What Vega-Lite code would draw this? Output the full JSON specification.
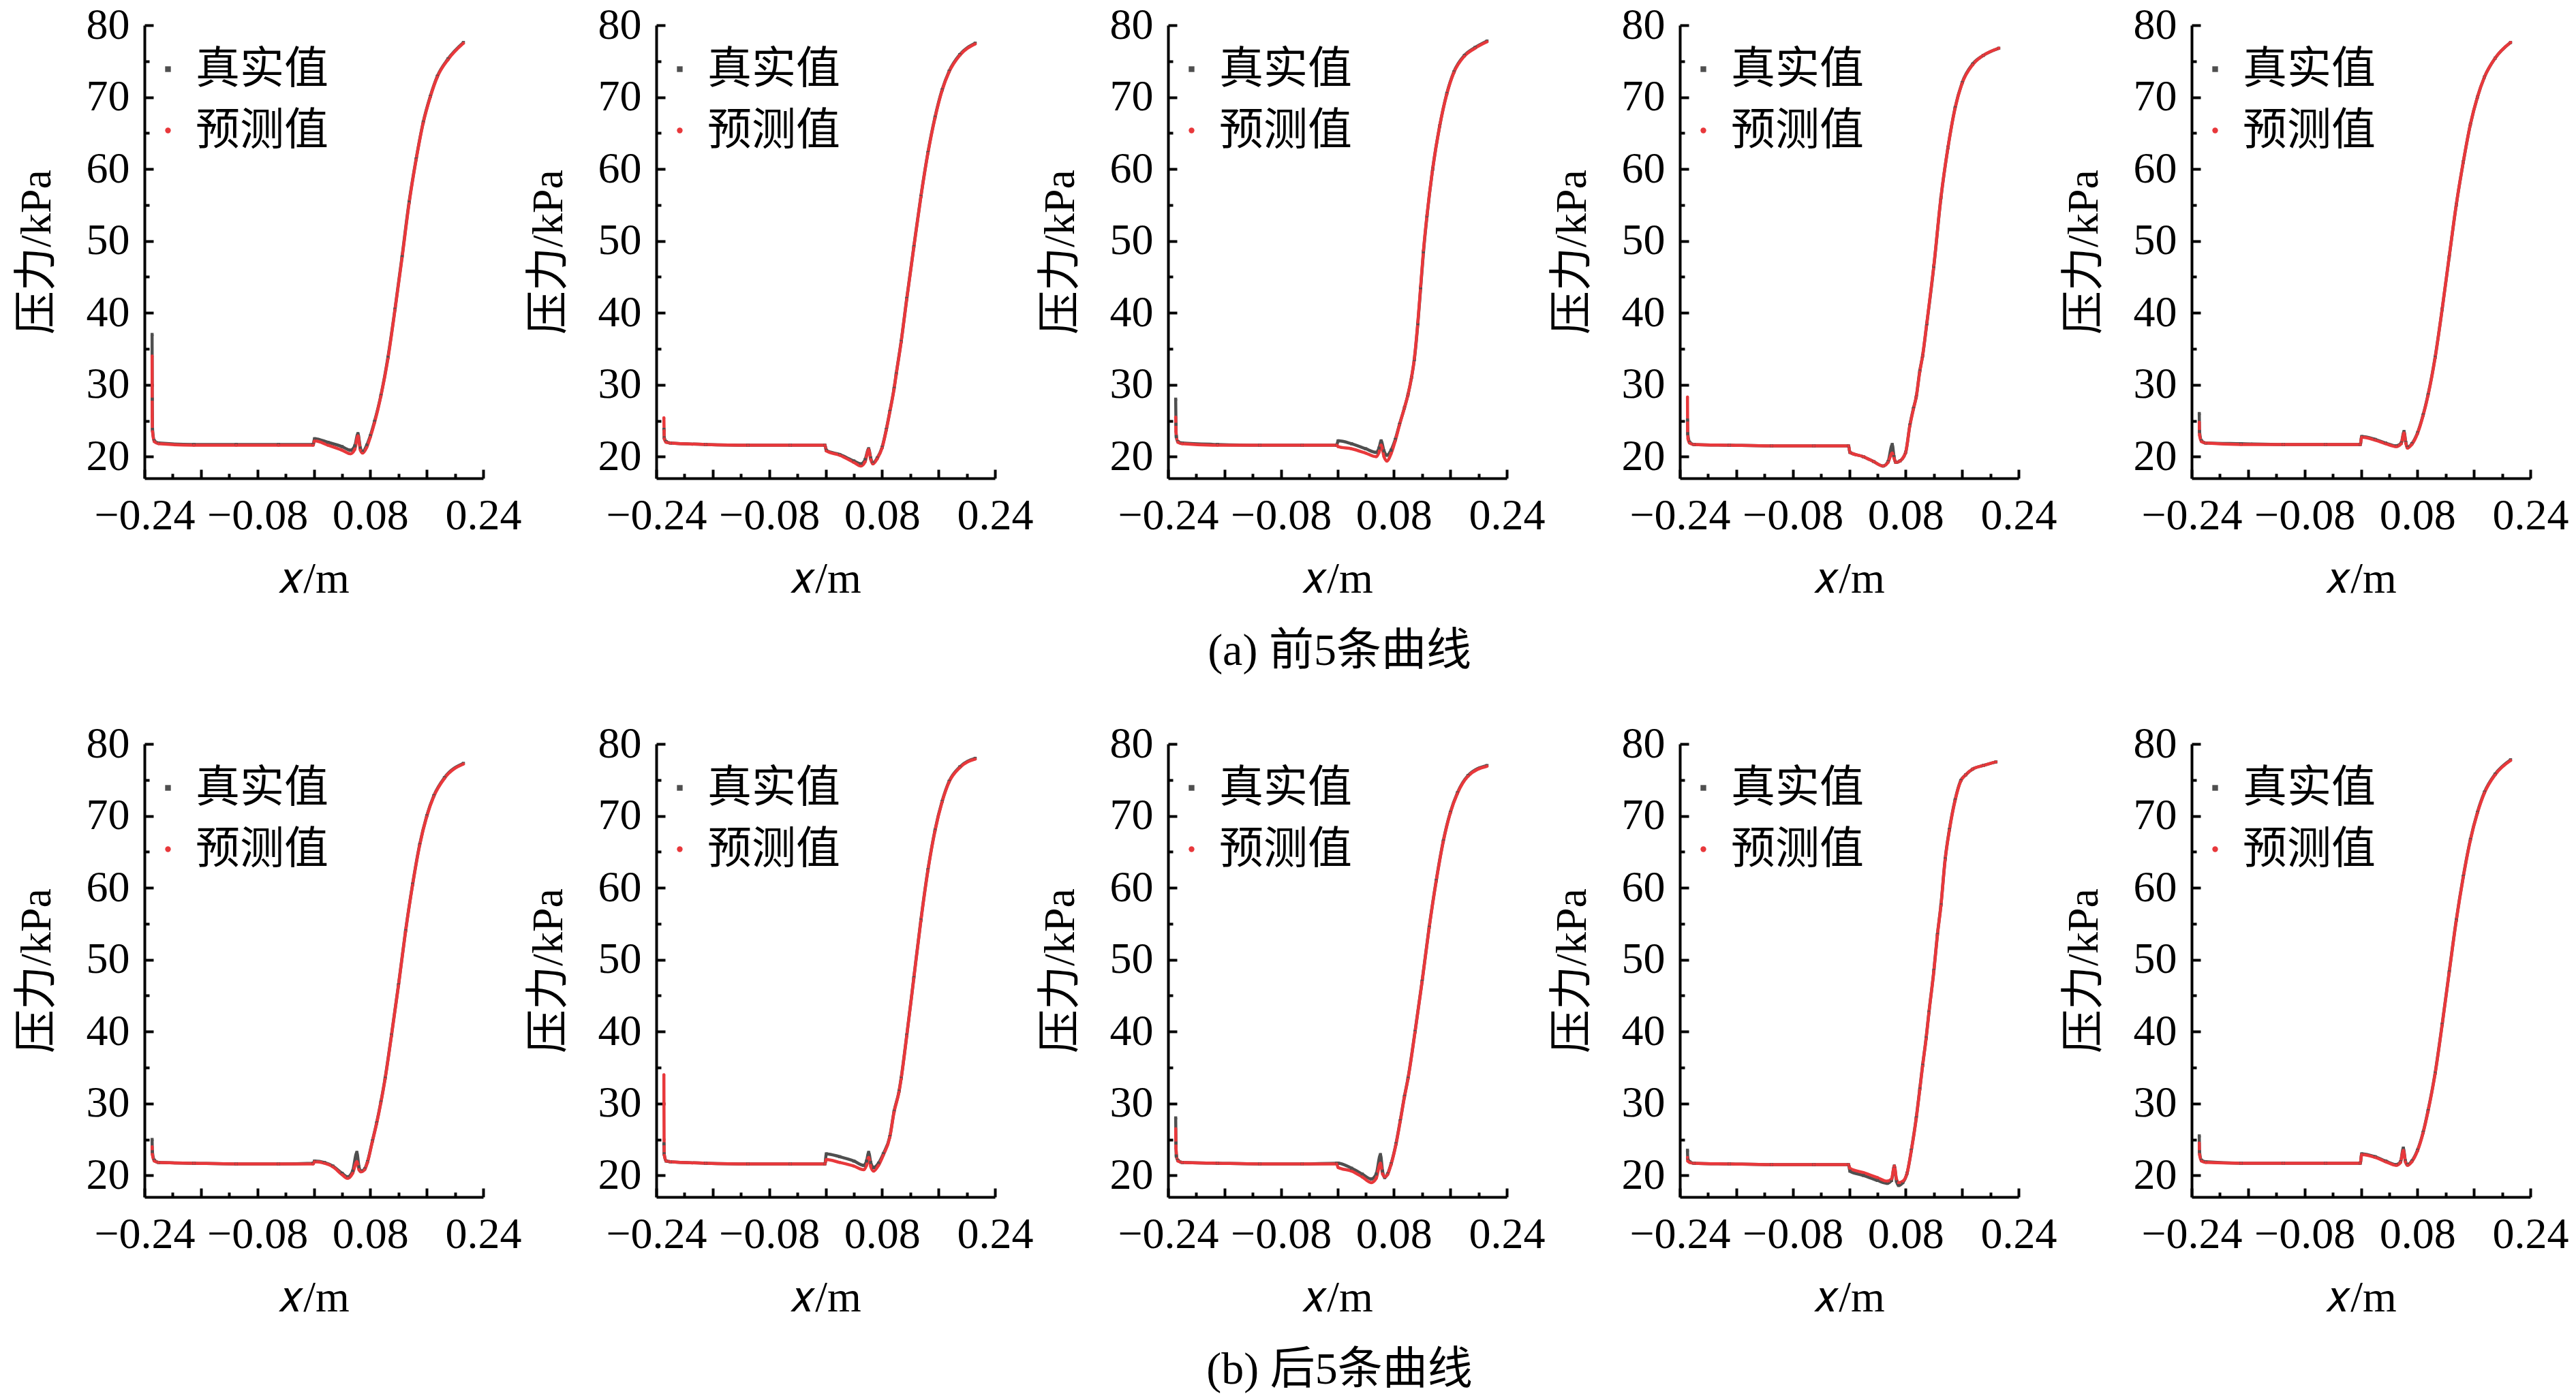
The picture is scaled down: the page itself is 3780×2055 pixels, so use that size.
{"$schema":"https://vega.github.io/schema/vega-lite/v6.json","padding":{"left":22,"top":5,"right":5,"bottom":5},"background":"white",
"data":{"values":[
{"s":"真实值","x":-0.2292,"y1":37},{"s":"真实值","x":-0.229,"y1":28},{"s":"真实值","x":-0.2286,"y1":23.8},{"s":"真实值","x":-0.226,"y1":22.2},{"s":"真实值","x":-0.22,"y1":21.9},{"s":"真实值","x":-0.17,"y1":21.7},{"s":"真实值","x":-0.11,"y1":21.7},{"s":"真实值","x":-0.05,"y1":21.7},{"s":"真实值","x":-0.001,"y1":21.7},{"s":"真实值","x":0.001,"y1":22.5},{"s":"真实值","x":0.02,"y1":22},{"s":"真实值","x":0.04,"y1":21.4},{"s":"真实值","x":0.052,"y1":20.9},{"s":"真实值","x":0.058,"y1":21.5},{"s":"真实值","x":0.0625,"y1":23.2},{"s":"真实值","x":0.066,"y1":21.2},{"s":"真实值","x":0.069,"y1":20.7},{"s":"真实值","x":0.075,"y1":21.6},{"s":"真实值","x":0.08,"y1":22.9},{"s":"真实值","x":0.086,"y1":24.9},{"s":"真实值","x":0.095,"y1":28.5},{"s":"真实值","x":0.105,"y1":33.8},{"s":"真实值","x":0.115,"y1":40.5},{"s":"真实值","x":0.125,"y1":47.8},{"s":"真实值","x":0.135,"y1":55.4},{"s":"真实值","x":0.145,"y1":61.4},{"s":"真实值","x":0.155,"y1":66.5},{"s":"真实值","x":0.165,"y1":70.1},{"s":"真实值","x":0.175,"y1":72.9},{"s":"真实值","x":0.19,"y1":75.3},{"s":"真实值","x":0.212,"y1":77.6},
{"s":"预测值","x":-0.2292,"y1":34},{"s":"预测值","x":-0.229,"y1":25.6},{"s":"预测值","x":-0.2286,"y1":23.5},{"s":"预测值","x":-0.226,"y1":22.1},{"s":"预测值","x":-0.22,"y1":21.8},{"s":"预测值","x":-0.17,"y1":21.6},{"s":"预测值","x":-0.11,"y1":21.6},{"s":"预测值","x":-0.05,"y1":21.6},{"s":"预测值","x":-0.001,"y1":21.6},{"s":"预测值","x":0.001,"y1":22.2},{"s":"预测值","x":0.02,"y1":21.6},{"s":"预测值","x":0.04,"y1":20.9},{"s":"预测值","x":0.052,"y1":20.4},{"s":"预测值","x":0.058,"y1":21},{"s":"预测值","x":0.0625,"y1":22.9},{"s":"预测值","x":0.066,"y1":20.9},{"s":"预测值","x":0.069,"y1":20.5},{"s":"预测值","x":0.075,"y1":21.3},{"s":"预测值","x":0.08,"y1":22.7},{"s":"预测值","x":0.086,"y1":24.7},{"s":"预测值","x":0.095,"y1":28.4},{"s":"预测值","x":0.105,"y1":33.6},{"s":"预测值","x":0.115,"y1":40.4},{"s":"预测值","x":0.125,"y1":47.6},{"s":"预测值","x":0.135,"y1":55.2},{"s":"预测值","x":0.145,"y1":61.3},{"s":"预测值","x":0.155,"y1":66.4},{"s":"预测值","x":0.165,"y1":70},{"s":"预测值","x":0.175,"y1":72.8},{"s":"预测值","x":0.19,"y1":75.2},{"s":"预测值","x":0.212,"y1":77.5},
{"s":"真实值","x":-0.2292,"y2":23.8},{"s":"真实值","x":-0.2286,"y2":22.6},{"s":"真实值","x":-0.226,"y2":22.1},{"s":"真实值","x":-0.22,"y2":21.9},{"s":"真实值","x":-0.17,"y2":21.7},{"s":"真实值","x":-0.11,"y2":21.6},{"s":"真实值","x":-0.05,"y2":21.6},{"s":"真实值","x":-0.001,"y2":21.6},{"s":"真实值","x":0.001,"y2":20.9},{"s":"真实值","x":0.02,"y2":20.3},{"s":"真实值","x":0.04,"y2":19.4},{"s":"真实值","x":0.05,"y2":19},{"s":"真实值","x":0.056,"y2":19.6},{"s":"真实值","x":0.061,"y2":21.1},{"s":"真实值","x":0.064,"y2":19.8},{"s":"真实值","x":0.067,"y2":19.1},{"s":"真实值","x":0.073,"y2":19.8},{"s":"真实值","x":0.08,"y2":21.3},{"s":"真实值","x":0.086,"y2":23.8},{"s":"真实值","x":0.091,"y2":26.3},{"s":"真实值","x":0.097,"y2":29.5},{"s":"真实值","x":0.1,"y2":31.5},{"s":"真实值","x":0.107,"y2":36},{"s":"真实值","x":0.115,"y2":42},{"s":"真实值","x":0.125,"y2":49.2},{"s":"真实值","x":0.135,"y2":56.2},{"s":"真实值","x":0.145,"y2":62.3},{"s":"真实值","x":0.155,"y2":67.2},{"s":"真实值","x":0.165,"y2":71},{"s":"真实值","x":0.175,"y2":73.6},{"s":"真实值","x":0.19,"y2":75.9},{"s":"真实值","x":0.212,"y2":77.5},
{"s":"预测值","x":-0.2292,"y2":25.4},{"s":"预测值","x":-0.2289,"y2":23.6},{"s":"预测值","x":-0.2286,"y2":22.5},{"s":"预测值","x":-0.226,"y2":22},{"s":"预测值","x":-0.22,"y2":21.9},{"s":"预测值","x":-0.17,"y2":21.7},{"s":"预测值","x":-0.11,"y2":21.6},{"s":"预测值","x":-0.05,"y2":21.6},{"s":"预测值","x":-0.001,"y2":21.6},{"s":"预测值","x":0.001,"y2":20.8},{"s":"预测值","x":0.02,"y2":20.2},{"s":"预测值","x":0.04,"y2":19.2},{"s":"预测值","x":0.05,"y2":18.7},{"s":"预测值","x":0.056,"y2":19.3},{"s":"预测值","x":0.061,"y2":21},{"s":"预测值","x":0.064,"y2":19.6},{"s":"预测值","x":0.067,"y2":19},{"s":"预测值","x":0.073,"y2":19.7},{"s":"预测值","x":0.08,"y2":21.2},{"s":"预测值","x":0.086,"y2":23.7},{"s":"预测值","x":0.091,"y2":26.2},{"s":"预测值","x":0.097,"y2":29.4},{"s":"预测值","x":0.1,"y2":31.4},{"s":"预测值","x":0.107,"y2":35.9},{"s":"预测值","x":0.115,"y2":41.9},{"s":"预测值","x":0.125,"y2":49.1},{"s":"预测值","x":0.135,"y2":56.1},{"s":"预测值","x":0.145,"y2":62.2},{"s":"预测值","x":0.155,"y2":67.1},{"s":"预测值","x":0.165,"y2":70.9},{"s":"预测值","x":0.175,"y2":73.5},{"s":"预测值","x":0.19,"y2":75.8},{"s":"预测值","x":0.212,"y2":77.4},
{"s":"真实值","x":-0.2292,"y3":28},{"s":"真实值","x":-0.2288,"y3":24.5},{"s":"真实值","x":-0.2284,"y3":22.8},{"s":"真实值","x":-0.226,"y3":22.1},{"s":"真实值","x":-0.22,"y3":21.9},{"s":"真实值","x":-0.17,"y3":21.7},{"s":"真实值","x":-0.11,"y3":21.6},{"s":"真实值","x":-0.05,"y3":21.6},{"s":"真实值","x":-0.001,"y3":21.6},{"s":"真实值","x":0.001,"y3":22.2},{"s":"真实值","x":0.02,"y3":21.8},{"s":"真实值","x":0.04,"y3":21.1},{"s":"真实值","x":0.055,"y3":20.6},{"s":"真实值","x":0.059,"y3":21.2},{"s":"真实值","x":0.062,"y3":22.2},{"s":"真实值","x":0.066,"y3":20.8},{"s":"真实值","x":0.07,"y3":20.2},{"s":"真实值","x":0.076,"y3":20.9},{"s":"真实值","x":0.082,"y3":22.4},{"s":"真实值","x":0.088,"y3":24.5},{"s":"真实值","x":0.095,"y3":26.8},{"s":"真实值","x":0.1,"y3":28.6},{"s":"真实值","x":0.105,"y3":31},{"s":"真实值","x":0.109,"y3":33.5},{"s":"真实值","x":0.114,"y3":38.5},{"s":"真实值","x":0.118,"y3":43.5},{"s":"真实值","x":0.122,"y3":48.5},{"s":"真实值","x":0.127,"y3":53.5},{"s":"真实值","x":0.135,"y3":60},{"s":"真实值","x":0.145,"y3":66},{"s":"真实值","x":0.155,"y3":70.5},{"s":"真实值","x":0.165,"y3":73.5},{"s":"真实值","x":0.18,"y3":75.8},{"s":"真实值","x":0.195,"y3":76.9},{"s":"真实值","x":0.212,"y3":77.8},
{"s":"预测值","x":-0.2292,"y3":25.5},{"s":"预测值","x":-0.2288,"y3":23.5},{"s":"预测值","x":-0.226,"y3":22},{"s":"预测值","x":-0.22,"y3":21.8},{"s":"预测值","x":-0.17,"y3":21.6},{"s":"预测值","x":-0.11,"y3":21.6},{"s":"预测值","x":-0.05,"y3":21.6},{"s":"预测值","x":-0.001,"y3":21.6},{"s":"预测值","x":0.001,"y3":21.4},{"s":"预测值","x":0.02,"y3":21.1},{"s":"预测值","x":0.04,"y3":20.5},{"s":"预测值","x":0.055,"y3":20},{"s":"预测值","x":0.059,"y3":20.6},{"s":"预测值","x":0.062,"y3":21.6},{"s":"预测值","x":0.066,"y3":20},{"s":"预测值","x":0.07,"y3":19.4},{"s":"预测值","x":0.076,"y3":20.4},{"s":"预测值","x":0.082,"y3":22.2},{"s":"预测值","x":0.088,"y3":24.4},{"s":"预测值","x":0.095,"y3":26.8},{"s":"预测值","x":0.1,"y3":28.6},{"s":"预测值","x":0.105,"y3":31},{"s":"预测值","x":0.109,"y3":33.6},{"s":"预测值","x":0.114,"y3":38.7},{"s":"预测值","x":0.118,"y3":43.7},{"s":"预测值","x":0.122,"y3":48.7},{"s":"预测值","x":0.127,"y3":53.6},{"s":"预测值","x":0.135,"y3":60},{"s":"预测值","x":0.145,"y3":66},{"s":"预测值","x":0.155,"y3":70.4},{"s":"预测值","x":0.165,"y3":73.4},{"s":"预测值","x":0.18,"y3":75.7},{"s":"预测值","x":0.195,"y3":76.8},{"s":"预测值","x":0.212,"y3":77.7},
{"s":"真实值","x":-0.2292,"y4":25.1},{"s":"真实值","x":-0.2288,"y4":23.2},{"s":"真实值","x":-0.226,"y4":22},{"s":"真实值","x":-0.22,"y4":21.7},{"s":"真实值","x":-0.17,"y4":21.6},{"s":"真实值","x":-0.11,"y4":21.5},{"s":"真实值","x":-0.05,"y4":21.5},{"s":"真实值","x":-0.001,"y4":21.5},{"s":"真实值","x":0.001,"y4":20.6},{"s":"真实值","x":0.02,"y4":20},{"s":"真实值","x":0.035,"y4":19.3},{"s":"真实值","x":0.048,"y4":18.7},{"s":"真实值","x":0.055,"y4":19.3},{"s":"真实值","x":0.061,"y4":21.7},{"s":"真实值","x":0.0635,"y4":20},{"s":"真实值","x":0.066,"y4":19.2},{"s":"真实值","x":0.072,"y4":19.4},{"s":"真实值","x":0.08,"y4":20.6},{"s":"真实值","x":0.086,"y4":24.4},{"s":"真实值","x":0.091,"y4":26.7},{"s":"真实值","x":0.095,"y4":28.3},{"s":"真实值","x":0.1,"y4":31.9},{"s":"真实值","x":0.104,"y4":34},{"s":"真实值","x":0.11,"y4":38.5},{"s":"真实值","x":0.12,"y4":46.5},{"s":"真实值","x":0.13,"y4":56},{"s":"真实值","x":0.14,"y4":63},{"s":"真实值","x":0.15,"y4":68.5},{"s":"真实值","x":0.16,"y4":72},{"s":"真实值","x":0.175,"y4":74.6},{"s":"真实值","x":0.19,"y4":75.8},{"s":"真实值","x":0.212,"y4":76.8},
{"s":"预测值","x":-0.2292,"y4":28.3},{"s":"预测值","x":-0.229,"y4":24},{"s":"预测值","x":-0.2285,"y4":22.5},{"s":"预测值","x":-0.226,"y4":21.9},{"s":"预测值","x":-0.22,"y4":21.7},{"s":"预测值","x":-0.17,"y4":21.6},{"s":"预测值","x":-0.11,"y4":21.5},{"s":"预测值","x":-0.05,"y4":21.5},{"s":"预测值","x":-0.001,"y4":21.5},{"s":"预测值","x":0.001,"y4":20.6},{"s":"预测值","x":0.02,"y4":20},{"s":"预测值","x":0.035,"y4":19.3},{"s":"预测值","x":0.048,"y4":18.7},{"s":"预测值","x":0.055,"y4":19.2},{"s":"预测值","x":0.061,"y4":20.5},{"s":"预测值","x":0.0635,"y4":19.8},{"s":"预测值","x":0.066,"y4":19.2},{"s":"预测值","x":0.072,"y4":19.4},{"s":"预测值","x":0.08,"y4":20.6},{"s":"预测值","x":0.086,"y4":24.3},{"s":"预测值","x":0.091,"y4":26.6},{"s":"预测值","x":0.095,"y4":28.3},{"s":"预测值","x":0.1,"y4":31.8},{"s":"预测值","x":0.104,"y4":34},{"s":"预测值","x":0.11,"y4":38.6},{"s":"预测值","x":0.12,"y4":46.6},{"s":"预测值","x":0.13,"y4":56},{"s":"预测值","x":0.14,"y4":63},{"s":"预测值","x":0.15,"y4":68.4},{"s":"预测值","x":0.16,"y4":71.9},{"s":"预测值","x":0.175,"y4":74.5},{"s":"预测值","x":0.19,"y4":75.8},{"s":"预测值","x":0.212,"y4":76.8},
{"s":"真实值","x":-0.2292,"y5":26},{"s":"真实值","x":-0.2288,"y5":23.5},{"s":"真实值","x":-0.226,"y5":22.2},{"s":"真实值","x":-0.22,"y5":21.9},{"s":"真实值","x":-0.17,"y5":21.8},{"s":"真实值","x":-0.11,"y5":21.7},{"s":"真实值","x":-0.05,"y5":21.7},{"s":"真实值","x":-0.001,"y5":21.7},{"s":"真实值","x":0.001,"y5":22.8},{"s":"真实值","x":0.02,"y5":22.4},{"s":"真实值","x":0.035,"y5":21.9},{"s":"真实值","x":0.05,"y5":21.5},{"s":"真实值","x":0.057,"y5":21.9},{"s":"真实值","x":0.061,"y5":23.5},{"s":"真实值","x":0.0635,"y5":22},{"s":"真实值","x":0.066,"y5":21.3},{"s":"真实值","x":0.072,"y5":21.8},{"s":"真实值","x":0.08,"y5":23.3},{"s":"真实值","x":0.088,"y5":25.8},{"s":"真实值","x":0.095,"y5":28.6},{"s":"真实值","x":0.105,"y5":33.8},{"s":"真实值","x":0.115,"y5":40.5},{"s":"真实值","x":0.125,"y5":47.8},{"s":"真实值","x":0.135,"y5":55},{"s":"真实值","x":0.145,"y5":61},{"s":"真实值","x":0.155,"y5":66.2},{"s":"真实值","x":0.165,"y5":70},{"s":"真实值","x":0.175,"y5":72.8},{"s":"真实值","x":0.19,"y5":75.4},{"s":"真实值","x":0.212,"y5":77.6},
{"s":"预测值","x":-0.2292,"y5":24.8},{"s":"预测值","x":-0.2288,"y5":23},{"s":"预测值","x":-0.226,"y5":22.1},{"s":"预测值","x":-0.22,"y5":21.9},{"s":"预测值","x":-0.17,"y5":21.7},{"s":"预测值","x":-0.11,"y5":21.7},{"s":"预测值","x":-0.05,"y5":21.7},{"s":"预测值","x":-0.001,"y5":21.7},{"s":"预测值","x":0.001,"y5":22.7},{"s":"预测值","x":0.02,"y5":22.3},{"s":"预测值","x":0.035,"y5":21.8},{"s":"预测值","x":0.05,"y5":21.4},{"s":"预测值","x":0.057,"y5":21.8},{"s":"预测值","x":0.061,"y5":23.3},{"s":"预测值","x":0.0635,"y5":21.9},{"s":"预测值","x":0.066,"y5":21.2},{"s":"预测值","x":0.072,"y5":21.7},{"s":"预测值","x":0.08,"y5":23.2},{"s":"预测值","x":0.088,"y5":25.7},{"s":"预测值","x":0.095,"y5":28.5},{"s":"预测值","x":0.105,"y5":33.7},{"s":"预测值","x":0.115,"y5":40.5},{"s":"预测值","x":0.125,"y5":47.8},{"s":"预测值","x":0.135,"y5":55},{"s":"预测值","x":0.145,"y5":61},{"s":"预测值","x":0.155,"y5":66.2},{"s":"预测值","x":0.165,"y5":70},{"s":"预测值","x":0.175,"y5":72.8},{"s":"预测值","x":0.19,"y5":75.4},{"s":"预测值","x":0.212,"y5":77.6},
{"s":"真实值","x":-0.2292,"y6":25},{"s":"真实值","x":-0.2288,"y6":23.3},{"s":"真实值","x":-0.226,"y6":22.1},{"s":"真实值","x":-0.22,"y6":21.8},{"s":"真实值","x":-0.17,"y6":21.7},{"s":"真实值","x":-0.11,"y6":21.6},{"s":"真实值","x":-0.05,"y6":21.6},{"s":"真实值","x":-0.001,"y6":21.7},{"s":"真实值","x":0.001,"y6":22},{"s":"真实值","x":0.015,"y6":21.8},{"s":"真实值","x":0.027,"y6":21.3},{"s":"真实值","x":0.04,"y6":20.3},{"s":"真实值","x":0.048,"y6":19.8},{"s":"真实值","x":0.055,"y6":20.6},{"s":"真实值","x":0.061,"y6":23.2},{"s":"真实值","x":0.064,"y6":21.2},{"s":"真实值","x":0.067,"y6":20.6},{"s":"真实值","x":0.072,"y6":20.9},{"s":"真实值","x":0.076,"y6":21.9},{"s":"真实值","x":0.083,"y6":24.8},{"s":"真实值","x":0.089,"y6":27.3},{"s":"真实值","x":0.095,"y6":30.2},{"s":"真实值","x":0.101,"y6":33.5},{"s":"真实值","x":0.11,"y6":39.5},{"s":"真实值","x":0.12,"y6":46.5},{"s":"真实值","x":0.13,"y6":54},{"s":"真实值","x":0.14,"y6":60.5},{"s":"真实值","x":0.15,"y6":66},{"s":"真实值","x":0.16,"y6":70},{"s":"真实值","x":0.17,"y6":72.8},{"s":"真实值","x":0.185,"y6":75.3},{"s":"真实值","x":0.212,"y6":77.3},
{"s":"预测值","x":-0.2292,"y6":24},{"s":"预测值","x":-0.2288,"y6":22.9},{"s":"预测值","x":-0.226,"y6":22},{"s":"预测值","x":-0.22,"y6":21.8},{"s":"预测值","x":-0.17,"y6":21.7},{"s":"预测值","x":-0.11,"y6":21.6},{"s":"预测值","x":-0.05,"y6":21.6},{"s":"预测值","x":-0.001,"y6":21.6},{"s":"预测值","x":0.001,"y6":21.9},{"s":"预测值","x":0.015,"y6":21.7},{"s":"预测值","x":0.027,"y6":21.2},{"s":"预测值","x":0.04,"y6":20.1},{"s":"预测值","x":0.048,"y6":19.6},{"s":"预测值","x":0.055,"y6":20.3},{"s":"预测值","x":0.061,"y6":21.9},{"s":"预测值","x":0.064,"y6":20.8},{"s":"预测值","x":0.067,"y6":20.5},{"s":"预测值","x":0.072,"y6":20.8},{"s":"预测值","x":0.076,"y6":21.8},{"s":"预测值","x":0.083,"y6":24.7},{"s":"预测值","x":0.089,"y6":27.2},{"s":"预测值","x":0.095,"y6":30.1},{"s":"预测值","x":0.101,"y6":33.4},{"s":"预测值","x":0.11,"y6":39.4},{"s":"预测值","x":0.12,"y6":46.4},{"s":"预测值","x":0.13,"y6":53.9},{"s":"预测值","x":0.14,"y6":60.4},{"s":"预测值","x":0.15,"y6":65.9},{"s":"预测值","x":0.16,"y6":69.9},{"s":"预测值","x":0.17,"y6":72.7},{"s":"预测值","x":0.185,"y6":75.2},{"s":"预测值","x":0.212,"y6":77.2},
{"s":"真实值","x":-0.2292,"y7":24.4},{"s":"真实值","x":-0.2288,"y7":23},{"s":"真实值","x":-0.226,"y7":22},{"s":"真实值","x":-0.22,"y7":21.9},{"s":"真实值","x":-0.17,"y7":21.7},{"s":"真实值","x":-0.11,"y7":21.6},{"s":"真实值","x":-0.05,"y7":21.6},{"s":"真实值","x":-0.001,"y7":21.6},{"s":"真实值","x":0.001,"y7":23},{"s":"真实值","x":0.02,"y7":22.6},{"s":"真实值","x":0.04,"y7":22},{"s":"真实值","x":0.054,"y7":21.4},{"s":"真实值","x":0.058,"y7":22},{"s":"真实值","x":0.061,"y7":23.2},{"s":"真实值","x":0.064,"y7":21.8},{"s":"真实值","x":0.068,"y7":21.1},{"s":"真实值","x":0.075,"y7":21.7},{"s":"真实值","x":0.0817,"y7":23},{"s":"真实值","x":0.091,"y7":25.4},{"s":"真实值","x":0.097,"y7":28.9},{"s":"真实值","x":0.104,"y7":31.7},{"s":"真实值","x":0.107,"y7":33.5},{"s":"真实值","x":0.115,"y7":39.5},{"s":"真实值","x":0.125,"y7":47.5},{"s":"真实值","x":0.135,"y7":55.5},{"s":"真实值","x":0.145,"y7":62.5},{"s":"真实值","x":0.155,"y7":68},{"s":"真实值","x":0.165,"y7":72},{"s":"真实值","x":0.175,"y7":74.8},{"s":"真实值","x":0.19,"y7":76.8},{"s":"真实值","x":0.212,"y7":78},
{"s":"预测值","x":-0.2292,"y7":34},{"s":"预测值","x":-0.2291,"y7":30},{"s":"预测值","x":-0.2289,"y7":25},{"s":"预测值","x":-0.2286,"y7":22.8},{"s":"预测值","x":-0.226,"y7":22},{"s":"预测值","x":-0.22,"y7":21.9},{"s":"预测值","x":-0.17,"y7":21.7},{"s":"预测值","x":-0.11,"y7":21.6},{"s":"预测值","x":-0.05,"y7":21.6},{"s":"预测值","x":-0.001,"y7":21.6},{"s":"预测值","x":0.001,"y7":22.2},{"s":"预测值","x":0.02,"y7":21.8},{"s":"预测值","x":0.04,"y7":21.3},{"s":"预测值","x":0.054,"y7":20.8},{"s":"预测值","x":0.058,"y7":21.4},{"s":"预测值","x":0.061,"y7":22.5},{"s":"预测值","x":0.064,"y7":21.2},{"s":"预测值","x":0.068,"y7":20.6},{"s":"预测值","x":0.075,"y7":21.4},{"s":"预测值","x":0.0817,"y7":22.8},{"s":"预测值","x":0.091,"y7":25.3},{"s":"预测值","x":0.097,"y7":28.8},{"s":"预测值","x":0.104,"y7":31.6},{"s":"预测值","x":0.107,"y7":33.4},{"s":"预测值","x":0.115,"y7":39.4},{"s":"预测值","x":0.125,"y7":47.4},{"s":"预测值","x":0.135,"y7":55.4},{"s":"预测值","x":0.145,"y7":62.4},{"s":"预测值","x":0.155,"y7":67.9},{"s":"预测值","x":0.165,"y7":71.9},{"s":"预测值","x":0.175,"y7":74.7},{"s":"预测值","x":0.19,"y7":76.7},{"s":"预测值","x":0.212,"y7":77.9},
{"s":"真实值","x":-0.2292,"y8":28},{"s":"真实值","x":-0.2288,"y8":24.5},{"s":"真实值","x":-0.2284,"y8":22.7},{"s":"真实值","x":-0.226,"y8":22.1},{"s":"真实值","x":-0.22,"y8":21.8},{"s":"真实值","x":-0.17,"y8":21.7},{"s":"真实值","x":-0.11,"y8":21.6},{"s":"真实值","x":-0.05,"y8":21.6},{"s":"真实值","x":-0.001,"y8":21.7},{"s":"真实值","x":0.001,"y8":21.7},{"s":"真实值","x":0.02,"y8":21},{"s":"真实值","x":0.035,"y8":20.2},{"s":"真实值","x":0.048,"y8":19.5},{"s":"真实值","x":0.055,"y8":20.2},{"s":"真实值","x":0.061,"y8":22.9},{"s":"真实值","x":0.064,"y8":20.6},{"s":"真实值","x":0.067,"y8":19.7},{"s":"真实值","x":0.071,"y8":20.2},{"s":"真实值","x":0.076,"y8":21.6},{"s":"真实值","x":0.083,"y8":24.4},{"s":"真实值","x":0.089,"y8":27.6},{"s":"真实值","x":0.095,"y8":31},{"s":"真实值","x":0.1,"y8":33.5},{"s":"真实值","x":0.11,"y8":40},{"s":"真实值","x":0.12,"y8":47},{"s":"真实值","x":0.13,"y8":54.5},{"s":"真实值","x":0.14,"y8":61},{"s":"真实值","x":0.15,"y8":66.5},{"s":"真实值","x":0.16,"y8":70.5},{"s":"真实值","x":0.17,"y8":73.2},{"s":"真实值","x":0.185,"y8":75.6},{"s":"真实值","x":0.212,"y8":77},
{"s":"预测值","x":-0.2292,"y8":26.5},{"s":"预测值","x":-0.2288,"y8":23.8},{"s":"预测值","x":-0.226,"y8":22},{"s":"预测值","x":-0.22,"y8":21.8},{"s":"预测值","x":-0.17,"y8":21.7},{"s":"预测值","x":-0.11,"y8":21.6},{"s":"预测值","x":-0.05,"y8":21.6},{"s":"预测值","x":-0.001,"y8":21.6},{"s":"预测值","x":0.001,"y8":21.1},{"s":"预测值","x":0.02,"y8":20.6},{"s":"预测值","x":0.035,"y8":19.8},{"s":"预测值","x":0.048,"y8":19},{"s":"预测值","x":0.055,"y8":19.6},{"s":"预测值","x":0.061,"y8":21.7},{"s":"预测值","x":0.064,"y8":20.2},{"s":"预测值","x":0.067,"y8":19.8},{"s":"预测值","x":0.071,"y8":20.1},{"s":"预测值","x":0.076,"y8":21.5},{"s":"预测值","x":0.083,"y8":24.3},{"s":"预测值","x":0.089,"y8":27.5},{"s":"预测值","x":0.095,"y8":30.9},{"s":"预测值","x":0.1,"y8":33.4},{"s":"预测值","x":0.11,"y8":39.9},{"s":"预测值","x":0.12,"y8":46.9},{"s":"预测值","x":0.13,"y8":54.4},{"s":"预测值","x":0.14,"y8":60.9},{"s":"预测值","x":0.15,"y8":66.4},{"s":"预测值","x":0.16,"y8":70.4},{"s":"预测值","x":0.17,"y8":73.1},{"s":"预测值","x":0.185,"y8":75.5},{"s":"预测值","x":0.212,"y8":76.9},
{"s":"真实值","x":-0.2292,"y9":23.5},{"s":"真实值","x":-0.2288,"y9":22.4},{"s":"真实值","x":-0.226,"y9":21.9},{"s":"真实值","x":-0.22,"y9":21.7},{"s":"真实值","x":-0.17,"y9":21.6},{"s":"真实值","x":-0.11,"y9":21.5},{"s":"真实值","x":-0.05,"y9":21.5},{"s":"真实值","x":-0.001,"y9":21.5},{"s":"真实值","x":0.001,"y9":20.6},{"s":"真实值","x":0.02,"y9":20},{"s":"真实值","x":0.04,"y9":19.3},{"s":"真实值","x":0.054,"y9":18.9},{"s":"真实值","x":0.06,"y9":19.3},{"s":"真实值","x":0.064,"y9":21.3},{"s":"真实值","x":0.067,"y9":19.2},{"s":"真实值","x":0.07,"y9":18.6},{"s":"真实值","x":0.076,"y9":19},{"s":"真实值","x":0.082,"y9":20.3},{"s":"真实值","x":0.088,"y9":23.5},{"s":"真实值","x":0.095,"y9":28},{"s":"真实值","x":0.1,"y9":32},{"s":"真实值","x":0.104,"y9":35.3},{"s":"真实值","x":0.109,"y9":39.1},{"s":"真实值","x":0.113,"y9":42.7},{"s":"真实值","x":0.12,"y9":48.5},{"s":"真实值","x":0.125,"y9":53.5},{"s":"真实值","x":0.13,"y9":57.6},{"s":"真实值","x":0.136,"y9":64},{"s":"真实值","x":0.142,"y9":68.1},{"s":"真实值","x":0.15,"y9":72.2},{"s":"真实值","x":0.158,"y9":74.9},{"s":"真实值","x":0.165,"y9":75.7},{"s":"真实值","x":0.175,"y9":76.5},{"s":"真实值","x":0.19,"y9":77},{"s":"真实值","x":0.208,"y9":77.5},
{"s":"预测值","x":-0.2292,"y9":22.5},{"s":"预测值","x":-0.2288,"y9":22},{"s":"预测值","x":-0.226,"y9":21.8},{"s":"预测值","x":-0.22,"y9":21.7},{"s":"预测值","x":-0.17,"y9":21.6},{"s":"预测值","x":-0.11,"y9":21.5},{"s":"预测值","x":-0.05,"y9":21.5},{"s":"预测值","x":-0.001,"y9":21.5},{"s":"预测值","x":0.001,"y9":21},{"s":"预测值","x":0.02,"y9":20.4},{"s":"预测值","x":0.04,"y9":19.7},{"s":"预测值","x":0.054,"y9":19.2},{"s":"预测值","x":0.06,"y9":19.5},{"s":"预测值","x":0.064,"y9":21.3},{"s":"预测值","x":0.067,"y9":19.5},{"s":"预测值","x":0.07,"y9":19},{"s":"预测值","x":0.076,"y9":19.2},{"s":"预测值","x":0.082,"y9":20.3},{"s":"预测值","x":0.088,"y9":23.4},{"s":"预测值","x":0.095,"y9":27.9},{"s":"预测值","x":0.1,"y9":31.9},{"s":"预测值","x":0.104,"y9":35.2},{"s":"预测值","x":0.109,"y9":39},{"s":"预测值","x":0.113,"y9":42.6},{"s":"预测值","x":0.12,"y9":48.4},{"s":"预测值","x":0.125,"y9":53.4},{"s":"预测值","x":0.13,"y9":57.5},{"s":"预测值","x":0.136,"y9":63.9},{"s":"预测值","x":0.142,"y9":68},{"s":"预测值","x":0.15,"y9":72.1},{"s":"预测值","x":0.158,"y9":74.8},{"s":"预测值","x":0.165,"y9":75.7},{"s":"预测值","x":0.175,"y9":76.5},{"s":"预测值","x":0.19,"y9":77},{"s":"预测值","x":0.208,"y9":77.5},
{"s":"真实值","x":-0.2292,"y10":25.5},{"s":"真实值","x":-0.2288,"y10":23.3},{"s":"真实值","x":-0.226,"y10":22.1},{"s":"真实值","x":-0.22,"y10":21.9},{"s":"真实值","x":-0.17,"y10":21.7},{"s":"真实值","x":-0.11,"y10":21.7},{"s":"真实值","x":-0.05,"y10":21.7},{"s":"真实值","x":-0.001,"y10":21.7},{"s":"真实值","x":0.001,"y10":23},{"s":"真实值","x":0.02,"y10":22.6},{"s":"真实值","x":0.035,"y10":22},{"s":"真实值","x":0.05,"y10":21.5},{"s":"真实值","x":0.056,"y10":21.9},{"s":"真实值","x":0.06,"y10":23.8},{"s":"真实值","x":0.063,"y10":22},{"s":"真实值","x":0.066,"y10":21.5},{"s":"真实值","x":0.072,"y10":22},{"s":"真实值","x":0.08,"y10":23.5},{"s":"真实值","x":0.088,"y10":26},{"s":"真实值","x":0.095,"y10":29},{"s":"真实值","x":0.105,"y10":34.2},{"s":"真实值","x":0.115,"y10":41},{"s":"真实值","x":0.125,"y10":48.3},{"s":"真实值","x":0.135,"y10":55.5},{"s":"真实值","x":0.145,"y10":61.6},{"s":"真实值","x":0.155,"y10":66.7},{"s":"真实值","x":0.165,"y10":70.5},{"s":"真实值","x":0.175,"y10":73.3},{"s":"真实值","x":0.19,"y10":75.8},{"s":"真实值","x":0.212,"y10":77.8},
{"s":"预测值","x":-0.2292,"y10":24.5},{"s":"预测值","x":-0.2288,"y10":22.9},{"s":"预测值","x":-0.226,"y10":22},{"s":"预测值","x":-0.22,"y10":21.8},{"s":"预测值","x":-0.17,"y10":21.7},{"s":"预测值","x":-0.11,"y10":21.7},{"s":"预测值","x":-0.05,"y10":21.7},{"s":"预测值","x":-0.001,"y10":21.7},{"s":"预测值","x":0.001,"y10":22.9},{"s":"预测值","x":0.02,"y10":22.5},{"s":"预测值","x":0.035,"y10":21.9},{"s":"预测值","x":0.05,"y10":21.4},{"s":"预测值","x":0.056,"y10":21.8},{"s":"预测值","x":0.06,"y10":23.5},{"s":"预测值","x":0.063,"y10":21.9},{"s":"预测值","x":0.066,"y10":21.4},{"s":"预测值","x":0.072,"y10":21.9},{"s":"预测值","x":0.08,"y10":23.4},{"s":"预测值","x":0.088,"y10":25.9},{"s":"预测值","x":0.095,"y10":28.9},{"s":"预测值","x":0.105,"y10":34.1},{"s":"预测值","x":0.115,"y10":40.9},{"s":"预测值","x":0.125,"y10":48.2},{"s":"预测值","x":0.135,"y10":55.4},{"s":"预测值","x":0.145,"y10":61.5},{"s":"预测值","x":0.155,"y10":66.6},{"s":"预测值","x":0.165,"y10":70.4},{"s":"预测值","x":0.175,"y10":73.2},{"s":"预测值","x":0.19,"y10":75.7},{"s":"预测值","x":0.212,"y10":77.7}
]},
"spacing":71,
"vconcat":[
{"hconcat":[
{"width":497,"height":665,"transform":[{"filter":"isValid(datum.y1)"}],"encoding":{"x":{"field":"x","type":"quantitative","scale":{"domain":[-0.24,0.24],"nice":false,"zero":false},"axis":{"title":"𝑥/m","values":[-0.24,-0.2,-0.16,-0.12,-0.08,-0.04,0,0.04,0.08,0.12,0.16,0.2,0.24],"labelExpr":"abs(abs(datum.value)-0.24)<0.001||abs(abs(datum.value)-0.08)<0.001?format(datum.value,'.2f'):''","tickSize":{"condition":{"test":"abs(datum.value/0.08-round(datum.value/0.08))<0.01","value":-13},"value":-7}}},"y":{"field":"y1","type":"quantitative","scale":{"domain":[17,80],"nice":false,"zero":false},"axis":{"title":"压力/kPa","values":[20,25,30,35,40,45,50,55,60,65,70,75,80],"labelExpr":"datum.value%10==0?datum.label:''","tickSize":{"condition":{"test":"datum.value%10==0","value":-13},"value":-7}}}},
"layer":[{"mark":{"type":"line","strokeWidth":4.5,"interpolate":"monotone"},"encoding":{"stroke":{"field":"s","type":"nominal","scale":{"domain":["真实值","预测值"],"range":["#4f4f4f","#e8383b"]},"legend":null}}},{"mark":{"type":"point","filled":true,"size":20,"opacity":1},"encoding":{"color":{"field":"s","type":"nominal","scale":{"domain":["真实值","预测值"],"range":["#4f4f4f","#e8383b"]},"legend":{"orient":"none","legendX":2,"legendY":32,"title":null}},"shape":{"field":"s","type":"nominal","scale":{"domain":["真实值","预测值"],"range":["square","circle"]},"legend":{"orient":"none","legendX":2,"legendY":32,"title":null}}}}]},
{"width":497,"height":665,"transform":[{"filter":"isValid(datum.y2)"}],"encoding":{"x":{"field":"x","type":"quantitative","scale":{"domain":[-0.24,0.24],"nice":false,"zero":false},"axis":{"title":"𝑥/m","values":[-0.24,-0.2,-0.16,-0.12,-0.08,-0.04,0,0.04,0.08,0.12,0.16,0.2,0.24],"labelExpr":"abs(abs(datum.value)-0.24)<0.001||abs(abs(datum.value)-0.08)<0.001?format(datum.value,'.2f'):''","tickSize":{"condition":{"test":"abs(datum.value/0.08-round(datum.value/0.08))<0.01","value":-13},"value":-7}}},"y":{"field":"y2","type":"quantitative","scale":{"domain":[17,80],"nice":false,"zero":false},"axis":{"title":"压力/kPa","values":[20,25,30,35,40,45,50,55,60,65,70,75,80],"labelExpr":"datum.value%10==0?datum.label:''","tickSize":{"condition":{"test":"datum.value%10==0","value":-13},"value":-7}}}},
"layer":[{"mark":{"type":"line","strokeWidth":4.5,"interpolate":"monotone"},"encoding":{"stroke":{"field":"s","type":"nominal","scale":{"domain":["真实值","预测值"],"range":["#4f4f4f","#e8383b"]},"legend":null}}},{"mark":{"type":"point","filled":true,"size":20,"opacity":1},"encoding":{"color":{"field":"s","type":"nominal","scale":{"domain":["真实值","预测值"],"range":["#4f4f4f","#e8383b"]},"legend":{"orient":"none","legendX":2,"legendY":32,"title":null}},"shape":{"field":"s","type":"nominal","scale":{"domain":["真实值","预测值"],"range":["square","circle"]},"legend":{"orient":"none","legendX":2,"legendY":32,"title":null}}}}]},
{"width":497,"height":665,"transform":[{"filter":"isValid(datum.y3)"}],"encoding":{"x":{"field":"x","type":"quantitative","scale":{"domain":[-0.24,0.24],"nice":false,"zero":false},"axis":{"title":"𝑥/m","values":[-0.24,-0.2,-0.16,-0.12,-0.08,-0.04,0,0.04,0.08,0.12,0.16,0.2,0.24],"labelExpr":"abs(abs(datum.value)-0.24)<0.001||abs(abs(datum.value)-0.08)<0.001?format(datum.value,'.2f'):''","tickSize":{"condition":{"test":"abs(datum.value/0.08-round(datum.value/0.08))<0.01","value":-13},"value":-7}}},"y":{"field":"y3","type":"quantitative","scale":{"domain":[17,80],"nice":false,"zero":false},"axis":{"title":"压力/kPa","values":[20,25,30,35,40,45,50,55,60,65,70,75,80],"labelExpr":"datum.value%10==0?datum.label:''","tickSize":{"condition":{"test":"datum.value%10==0","value":-13},"value":-7}}}},
"layer":[{"mark":{"type":"line","strokeWidth":4.5,"interpolate":"monotone"},"encoding":{"stroke":{"field":"s","type":"nominal","scale":{"domain":["真实值","预测值"],"range":["#4f4f4f","#e8383b"]},"legend":null}}},{"mark":{"type":"point","filled":true,"size":20,"opacity":1},"encoding":{"color":{"field":"s","type":"nominal","scale":{"domain":["真实值","预测值"],"range":["#4f4f4f","#e8383b"]},"legend":{"orient":"none","legendX":2,"legendY":32,"title":null}},"shape":{"field":"s","type":"nominal","scale":{"domain":["真实值","预测值"],"range":["square","circle"]},"legend":{"orient":"none","legendX":2,"legendY":32,"title":null}}}}]},
{"width":497,"height":665,"transform":[{"filter":"isValid(datum.y4)"}],"encoding":{"x":{"field":"x","type":"quantitative","scale":{"domain":[-0.24,0.24],"nice":false,"zero":false},"axis":{"title":"𝑥/m","values":[-0.24,-0.2,-0.16,-0.12,-0.08,-0.04,0,0.04,0.08,0.12,0.16,0.2,0.24],"labelExpr":"abs(abs(datum.value)-0.24)<0.001||abs(abs(datum.value)-0.08)<0.001?format(datum.value,'.2f'):''","tickSize":{"condition":{"test":"abs(datum.value/0.08-round(datum.value/0.08))<0.01","value":-13},"value":-7}}},"y":{"field":"y4","type":"quantitative","scale":{"domain":[17,80],"nice":false,"zero":false},"axis":{"title":"压力/kPa","values":[20,25,30,35,40,45,50,55,60,65,70,75,80],"labelExpr":"datum.value%10==0?datum.label:''","tickSize":{"condition":{"test":"datum.value%10==0","value":-13},"value":-7}}}},
"layer":[{"mark":{"type":"line","strokeWidth":4.5,"interpolate":"monotone"},"encoding":{"stroke":{"field":"s","type":"nominal","scale":{"domain":["真实值","预测值"],"range":["#4f4f4f","#e8383b"]},"legend":null}}},{"mark":{"type":"point","filled":true,"size":20,"opacity":1},"encoding":{"color":{"field":"s","type":"nominal","scale":{"domain":["真实值","预测值"],"range":["#4f4f4f","#e8383b"]},"legend":{"orient":"none","legendX":2,"legendY":32,"title":null}},"shape":{"field":"s","type":"nominal","scale":{"domain":["真实值","预测值"],"range":["square","circle"]},"legend":{"orient":"none","legendX":2,"legendY":32,"title":null}}}}]},
{"width":497,"height":665,"transform":[{"filter":"isValid(datum.y5)"}],"encoding":{"x":{"field":"x","type":"quantitative","scale":{"domain":[-0.24,0.24],"nice":false,"zero":false},"axis":{"title":"𝑥/m","values":[-0.24,-0.2,-0.16,-0.12,-0.08,-0.04,0,0.04,0.08,0.12,0.16,0.2,0.24],"labelExpr":"abs(abs(datum.value)-0.24)<0.001||abs(abs(datum.value)-0.08)<0.001?format(datum.value,'.2f'):''","tickSize":{"condition":{"test":"abs(datum.value/0.08-round(datum.value/0.08))<0.01","value":-13},"value":-7}}},"y":{"field":"y5","type":"quantitative","scale":{"domain":[17,80],"nice":false,"zero":false},"axis":{"title":"压力/kPa","values":[20,25,30,35,40,45,50,55,60,65,70,75,80],"labelExpr":"datum.value%10==0?datum.label:''","tickSize":{"condition":{"test":"datum.value%10==0","value":-13},"value":-7}}}},
"layer":[{"mark":{"type":"line","strokeWidth":4.5,"interpolate":"monotone"},"encoding":{"stroke":{"field":"s","type":"nominal","scale":{"domain":["真实值","预测值"],"range":["#4f4f4f","#e8383b"]},"legend":null}}},{"mark":{"type":"point","filled":true,"size":20,"opacity":1},"encoding":{"color":{"field":"s","type":"nominal","scale":{"domain":["真实值","预测值"],"range":["#4f4f4f","#e8383b"]},"legend":{"orient":"none","legendX":2,"legendY":32,"title":null}},"shape":{"field":"s","type":"nominal","scale":{"domain":["真实值","预测值"],"range":["square","circle"]},"legend":{"orient":"none","legendX":2,"legendY":32,"title":null}}}}]}
],"spacing":254,"bounds":"flush",
"title":{"text":"(a) 前5条曲线","orient":"bottom","anchor":"middle","frame":"bounds","offset":42,"dx":70},
"resolve":{"scale":{"color":"independent","shape":"independent"},"legend":{"color":"independent","shape":"independent"}}},
{"hconcat":[
{"width":497,"height":665,"transform":[{"filter":"isValid(datum.y6)"}],"encoding":{"x":{"field":"x","type":"quantitative","scale":{"domain":[-0.24,0.24],"nice":false,"zero":false},"axis":{"title":"𝑥/m","values":[-0.24,-0.2,-0.16,-0.12,-0.08,-0.04,0,0.04,0.08,0.12,0.16,0.2,0.24],"labelExpr":"abs(abs(datum.value)-0.24)<0.001||abs(abs(datum.value)-0.08)<0.001?format(datum.value,'.2f'):''","tickSize":{"condition":{"test":"abs(datum.value/0.08-round(datum.value/0.08))<0.01","value":-13},"value":-7}}},"y":{"field":"y6","type":"quantitative","scale":{"domain":[17,80],"nice":false,"zero":false},"axis":{"title":"压力/kPa","values":[20,25,30,35,40,45,50,55,60,65,70,75,80],"labelExpr":"datum.value%10==0?datum.label:''","tickSize":{"condition":{"test":"datum.value%10==0","value":-13},"value":-7}}}},
"layer":[{"mark":{"type":"line","strokeWidth":4.5,"interpolate":"monotone"},"encoding":{"stroke":{"field":"s","type":"nominal","scale":{"domain":["真实值","预测值"],"range":["#4f4f4f","#e8383b"]},"legend":null}}},{"mark":{"type":"point","filled":true,"size":20,"opacity":1},"encoding":{"color":{"field":"s","type":"nominal","scale":{"domain":["真实值","预测值"],"range":["#4f4f4f","#e8383b"]},"legend":{"orient":"none","legendX":2,"legendY":32,"title":null}},"shape":{"field":"s","type":"nominal","scale":{"domain":["真实值","预测值"],"range":["square","circle"]},"legend":{"orient":"none","legendX":2,"legendY":32,"title":null}}}}]},
{"width":497,"height":665,"transform":[{"filter":"isValid(datum.y7)"}],"encoding":{"x":{"field":"x","type":"quantitative","scale":{"domain":[-0.24,0.24],"nice":false,"zero":false},"axis":{"title":"𝑥/m","values":[-0.24,-0.2,-0.16,-0.12,-0.08,-0.04,0,0.04,0.08,0.12,0.16,0.2,0.24],"labelExpr":"abs(abs(datum.value)-0.24)<0.001||abs(abs(datum.value)-0.08)<0.001?format(datum.value,'.2f'):''","tickSize":{"condition":{"test":"abs(datum.value/0.08-round(datum.value/0.08))<0.01","value":-13},"value":-7}}},"y":{"field":"y7","type":"quantitative","scale":{"domain":[17,80],"nice":false,"zero":false},"axis":{"title":"压力/kPa","values":[20,25,30,35,40,45,50,55,60,65,70,75,80],"labelExpr":"datum.value%10==0?datum.label:''","tickSize":{"condition":{"test":"datum.value%10==0","value":-13},"value":-7}}}},
"layer":[{"mark":{"type":"line","strokeWidth":4.5,"interpolate":"monotone"},"encoding":{"stroke":{"field":"s","type":"nominal","scale":{"domain":["真实值","预测值"],"range":["#4f4f4f","#e8383b"]},"legend":null}}},{"mark":{"type":"point","filled":true,"size":20,"opacity":1},"encoding":{"color":{"field":"s","type":"nominal","scale":{"domain":["真实值","预测值"],"range":["#4f4f4f","#e8383b"]},"legend":{"orient":"none","legendX":2,"legendY":32,"title":null}},"shape":{"field":"s","type":"nominal","scale":{"domain":["真实值","预测值"],"range":["square","circle"]},"legend":{"orient":"none","legendX":2,"legendY":32,"title":null}}}}]},
{"width":497,"height":665,"transform":[{"filter":"isValid(datum.y8)"}],"encoding":{"x":{"field":"x","type":"quantitative","scale":{"domain":[-0.24,0.24],"nice":false,"zero":false},"axis":{"title":"𝑥/m","values":[-0.24,-0.2,-0.16,-0.12,-0.08,-0.04,0,0.04,0.08,0.12,0.16,0.2,0.24],"labelExpr":"abs(abs(datum.value)-0.24)<0.001||abs(abs(datum.value)-0.08)<0.001?format(datum.value,'.2f'):''","tickSize":{"condition":{"test":"abs(datum.value/0.08-round(datum.value/0.08))<0.01","value":-13},"value":-7}}},"y":{"field":"y8","type":"quantitative","scale":{"domain":[17,80],"nice":false,"zero":false},"axis":{"title":"压力/kPa","values":[20,25,30,35,40,45,50,55,60,65,70,75,80],"labelExpr":"datum.value%10==0?datum.label:''","tickSize":{"condition":{"test":"datum.value%10==0","value":-13},"value":-7}}}},
"layer":[{"mark":{"type":"line","strokeWidth":4.5,"interpolate":"monotone"},"encoding":{"stroke":{"field":"s","type":"nominal","scale":{"domain":["真实值","预测值"],"range":["#4f4f4f","#e8383b"]},"legend":null}}},{"mark":{"type":"point","filled":true,"size":20,"opacity":1},"encoding":{"color":{"field":"s","type":"nominal","scale":{"domain":["真实值","预测值"],"range":["#4f4f4f","#e8383b"]},"legend":{"orient":"none","legendX":2,"legendY":32,"title":null}},"shape":{"field":"s","type":"nominal","scale":{"domain":["真实值","预测值"],"range":["square","circle"]},"legend":{"orient":"none","legendX":2,"legendY":32,"title":null}}}}]},
{"width":497,"height":665,"transform":[{"filter":"isValid(datum.y9)"}],"encoding":{"x":{"field":"x","type":"quantitative","scale":{"domain":[-0.24,0.24],"nice":false,"zero":false},"axis":{"title":"𝑥/m","values":[-0.24,-0.2,-0.16,-0.12,-0.08,-0.04,0,0.04,0.08,0.12,0.16,0.2,0.24],"labelExpr":"abs(abs(datum.value)-0.24)<0.001||abs(abs(datum.value)-0.08)<0.001?format(datum.value,'.2f'):''","tickSize":{"condition":{"test":"abs(datum.value/0.08-round(datum.value/0.08))<0.01","value":-13},"value":-7}}},"y":{"field":"y9","type":"quantitative","scale":{"domain":[17,80],"nice":false,"zero":false},"axis":{"title":"压力/kPa","values":[20,25,30,35,40,45,50,55,60,65,70,75,80],"labelExpr":"datum.value%10==0?datum.label:''","tickSize":{"condition":{"test":"datum.value%10==0","value":-13},"value":-7}}}},
"layer":[{"mark":{"type":"line","strokeWidth":4.5,"interpolate":"monotone"},"encoding":{"stroke":{"field":"s","type":"nominal","scale":{"domain":["真实值","预测值"],"range":["#4f4f4f","#e8383b"]},"legend":null}}},{"mark":{"type":"point","filled":true,"size":20,"opacity":1},"encoding":{"color":{"field":"s","type":"nominal","scale":{"domain":["真实值","预测值"],"range":["#4f4f4f","#e8383b"]},"legend":{"orient":"none","legendX":2,"legendY":32,"title":null}},"shape":{"field":"s","type":"nominal","scale":{"domain":["真实值","预测值"],"range":["square","circle"]},"legend":{"orient":"none","legendX":2,"legendY":32,"title":null}}}}]},
{"width":497,"height":665,"transform":[{"filter":"isValid(datum.y10)"}],"encoding":{"x":{"field":"x","type":"quantitative","scale":{"domain":[-0.24,0.24],"nice":false,"zero":false},"axis":{"title":"𝑥/m","values":[-0.24,-0.2,-0.16,-0.12,-0.08,-0.04,0,0.04,0.08,0.12,0.16,0.2,0.24],"labelExpr":"abs(abs(datum.value)-0.24)<0.001||abs(abs(datum.value)-0.08)<0.001?format(datum.value,'.2f'):''","tickSize":{"condition":{"test":"abs(datum.value/0.08-round(datum.value/0.08))<0.01","value":-13},"value":-7}}},"y":{"field":"y10","type":"quantitative","scale":{"domain":[17,80],"nice":false,"zero":false},"axis":{"title":"压力/kPa","values":[20,25,30,35,40,45,50,55,60,65,70,75,80],"labelExpr":"datum.value%10==0?datum.label:''","tickSize":{"condition":{"test":"datum.value%10==0","value":-13},"value":-7}}}},
"layer":[{"mark":{"type":"line","strokeWidth":4.5,"interpolate":"monotone"},"encoding":{"stroke":{"field":"s","type":"nominal","scale":{"domain":["真实值","预测值"],"range":["#4f4f4f","#e8383b"]},"legend":null}}},{"mark":{"type":"point","filled":true,"size":20,"opacity":1},"encoding":{"color":{"field":"s","type":"nominal","scale":{"domain":["真实值","预测值"],"range":["#4f4f4f","#e8383b"]},"legend":{"orient":"none","legendX":2,"legendY":32,"title":null}},"shape":{"field":"s","type":"nominal","scale":{"domain":["真实值","预测值"],"range":["square","circle"]},"legend":{"orient":"none","legendX":2,"legendY":32,"title":null}}}}]}
],"spacing":254,"bounds":"flush",
"title":{"text":"(b) 后5条曲线","orient":"bottom","anchor":"middle","frame":"bounds","offset":42,"dx":70},
"resolve":{"scale":{"color":"independent","shape":"independent"},"legend":{"color":"independent","shape":"independent"}}}
],
"config":{
"view":{"stroke":null},
"axis":{"domainColor":"#000","domainWidth":4,"tickColor":"#000","tickWidth":4,"tickSize":-7,"labelFont":"'Liberation Serif', 'Times New Roman', serif","labelFontSize":64,"labelColor":"#000","titleFont":"'Liberation Serif', 'Noto Sans CJK SC', serif","titleFontSize":64,"titleFontWeight":"normal","titleColor":"#000","grid":false,"labelOverlap":false,"labelBound":false,"labelFlush":false,"labelAngle":0},
"axisX":{"labelPadding":36,"titlePadding":23},
"axisY":{"labelPadding":35,"titlePadding":40},
"legend":{"labelFont":"Noto Sans CJK SC","labelFontSize":65,"labelColor":"#000","symbolSize":70,"rowPadding":24,"labelOffset":8,"padding":0,"labelLimit":0},
"title":{"font":"'Liberation Serif', 'Noto Sans CJK SC', serif","fontSize":66,"fontWeight":"normal","color":"#000","anchor":"middle"}
}}
